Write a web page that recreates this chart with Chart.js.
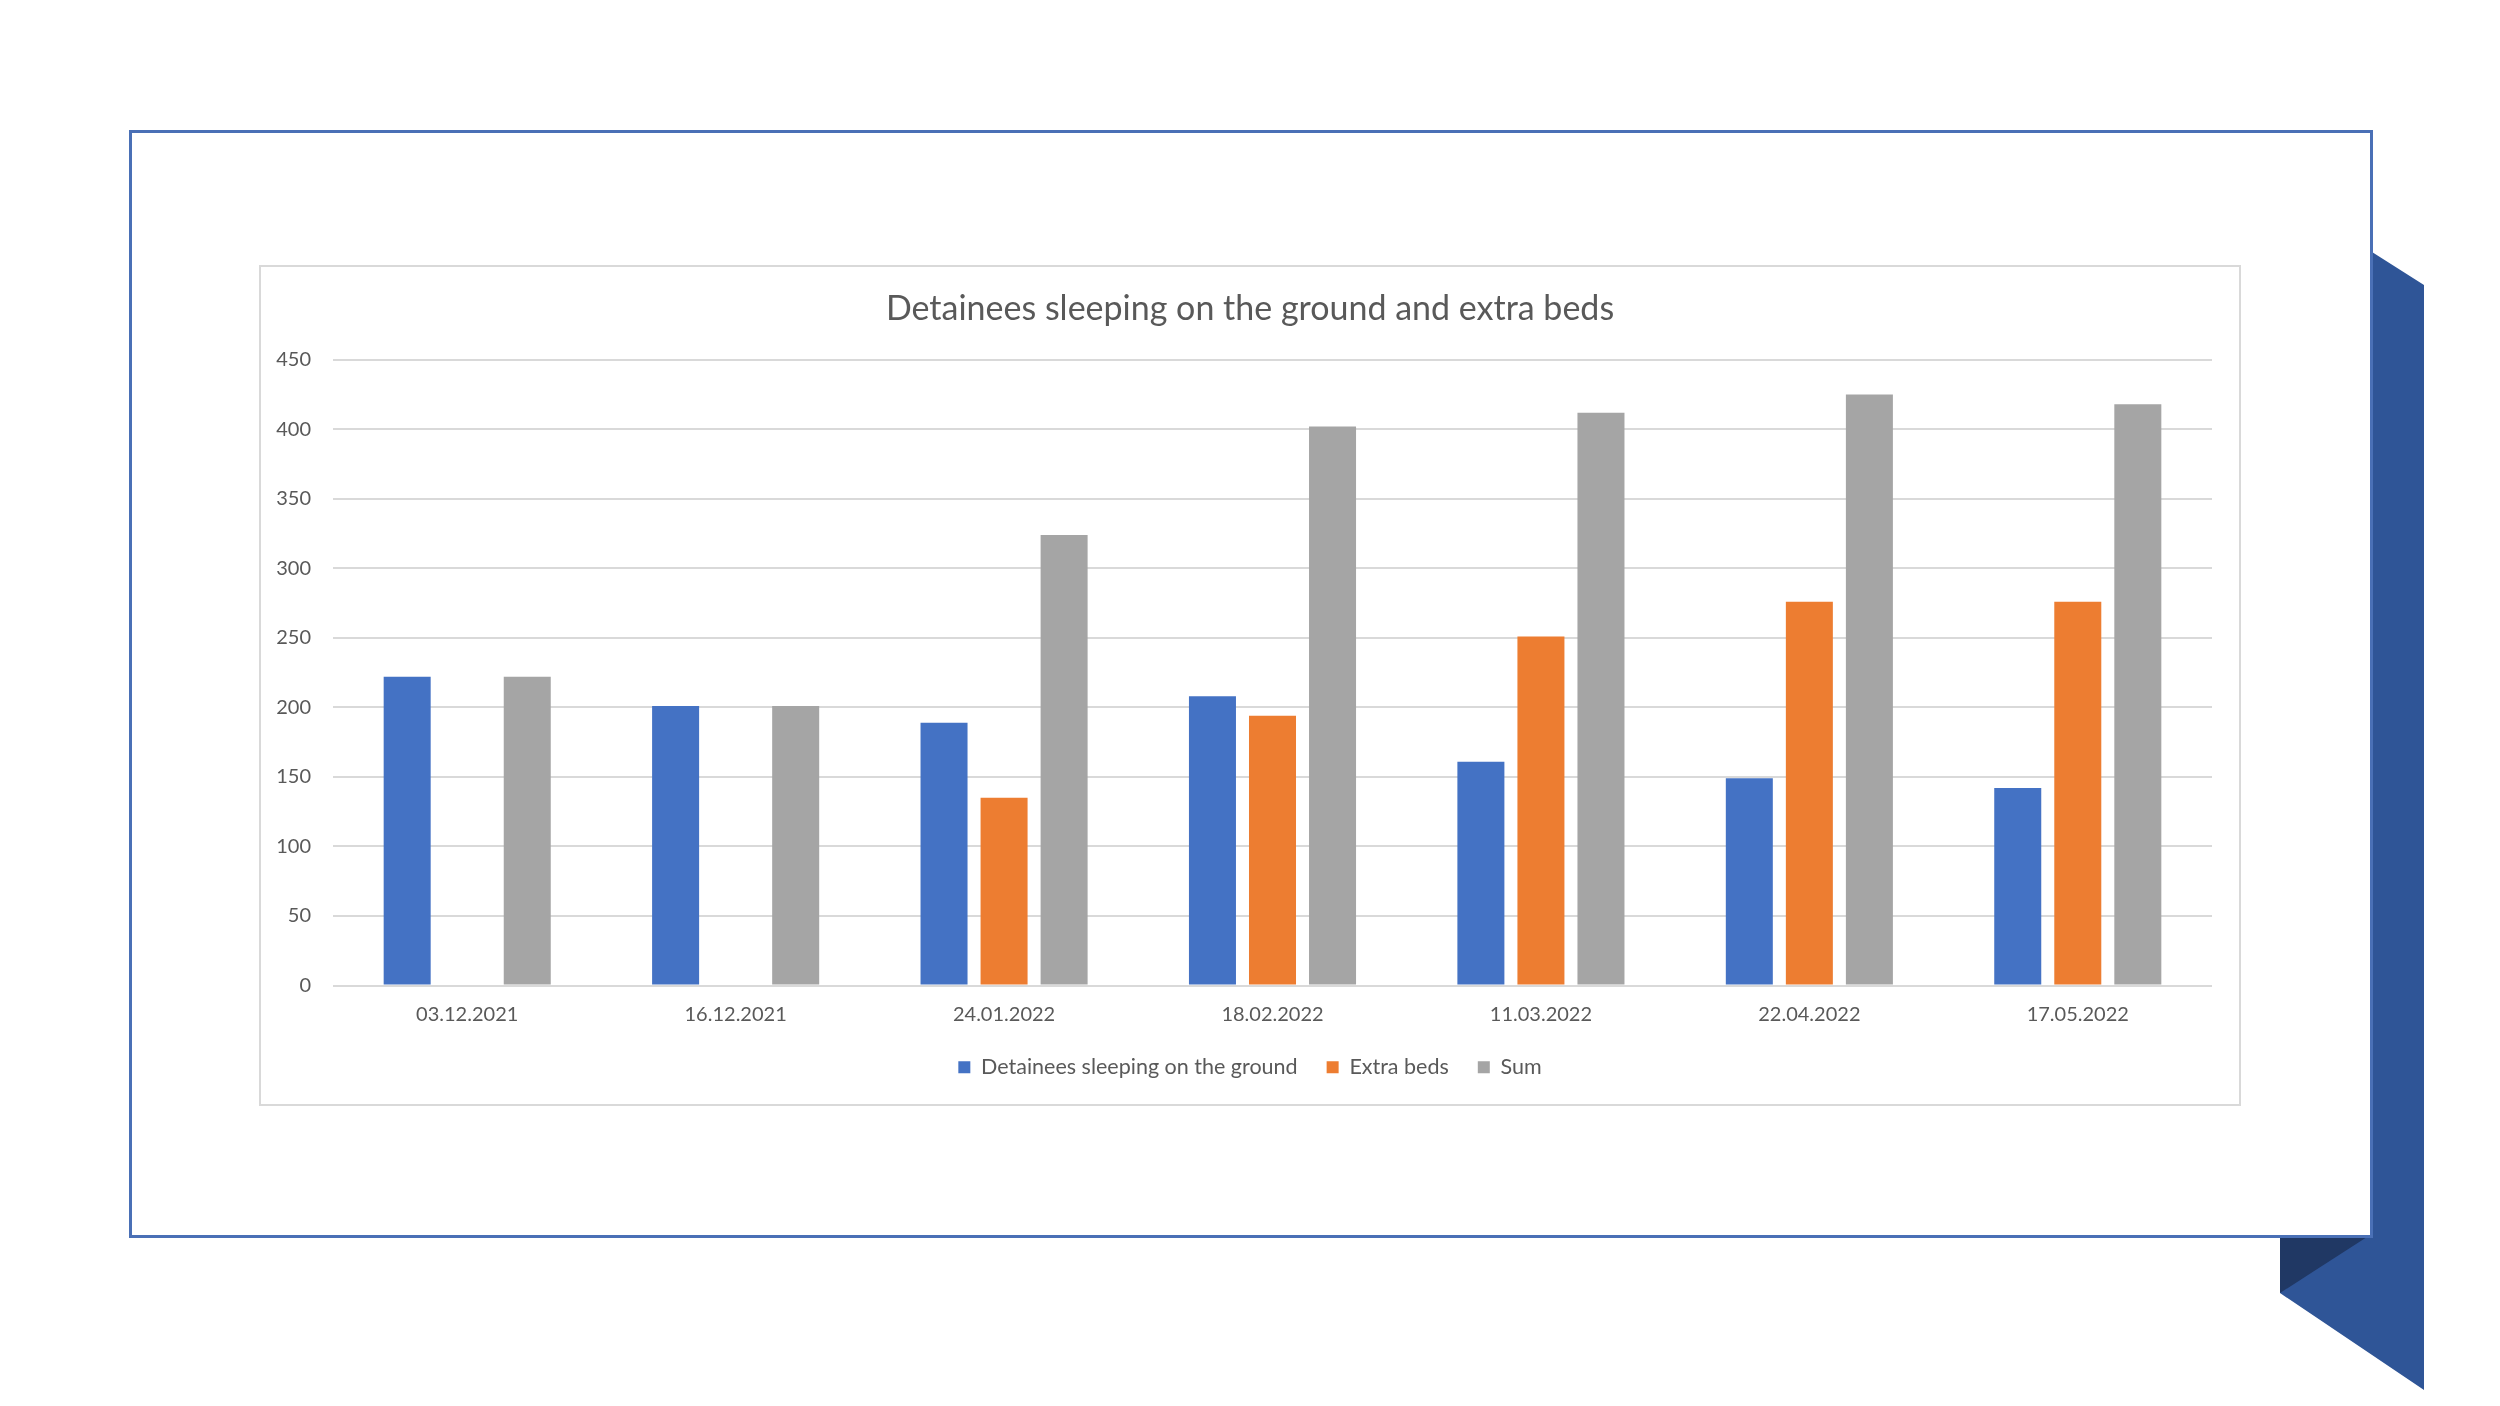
<!DOCTYPE html>
<html>
<head>
<meta charset="utf-8">
<script src="https://cdn.jsdelivr.net/npm/chart.js@4.4.1/dist/chart.umd.min.js"></script>
<style>
  html, body { margin: 0; padding: 0; background: #fff; }
  body { width: 2500px; height: 1406px; position: relative; overflow: hidden; }
  #deco { position: absolute; left: 0; top: 0; }
  #frame {
    position: absolute; left: 129px; top: 130px; width: 2244px; height: 1108px;
    box-sizing: border-box; border: 3px solid #4A70B6; background: #fff;
  }
  #chartBox {
    position: absolute; left: 259px; top: 265px; width: 1982px; height: 841px;
    box-sizing: border-box; border: 2px solid #D9D9D9; background: #fff;
  }
  #chartInner { position: absolute; left: 0; top: 0; right: 0; bottom: 0; }
</style>
</head>
<body>
<svg id="deco" width="2500" height="1406">
  <polygon points="2372,252 2424,285 2424,1390 2280,1293 2280,1237 2372,1237" fill="#2F5597"/>
  <polygon points="2280,1237 2367,1237 2280,1293" fill="#203864"/>
</svg>
<div id="frame"></div>
<div id="chartBox"><div id="chartInner"><canvas id="myChart"></canvas></div></div>

<script>
// data
const dates = ['03.12.2021', '16.12.2021', '24.01.2022', '18.02.2022', '11.03.2022', '22.04.2022', '17.05.2022'];
const onGround = [222, 201, 189, 208, 161, 149, 142];
const extraBeds = [null, null, 135, 194, 251, 276, 276];
const sumValues = [222, 201, 324, 402, 412, 425, 418];
const yTicks = [0, 50, 100, 150, 200, 250, 300, 350, 400, 450];

const fontFamily = 'Lato, "Open Sans", sans-serif';
const textColor = '#595959';
const gridColor = '#D9D9D9';

const config = {
  type: 'bar',
  data: {
    labels: dates,
    datasets: [{
      label: 'Detainees sleeping on the ground',
      data: onGround,
      backgroundColor: '#4472C4'
    }, {
      label: 'Extra beds',
      data: extraBeds,
      backgroundColor: '#ED7D31'
    }, {
      label: 'Sum',
      data: sumValues,
      backgroundColor: '#A5A5A5'
    }]
  },
  options: {
    responsive: true,
    maintainAspectRatio: false,
    animation: false,
    categoryPercentage: 0.671,
    barPercentage: 0.783,
    layout: {
      // symmetric padding so title and legend stay centred in the box
      padding: { left: 13.5, right: 13.5, top: 0, bottom: 16 }
    },
    plugins: {
      title: {
        display: true,
        text: 'Detainees sleeping on the ground and extra beds',
        color: textColor,
        font: { family: fontFamily, size: 34, weight: 'normal' },
        padding: { top: 22, bottom: 30 }
      },
      legend: {
        position: 'bottom',
        labels: {
          color: textColor,
          font: { family: fontFamily, size: 21.5 },
          boxWidth: 12,
          boxHeight: 12,
          padding: 29
        }
      },
      tooltip: { enabled: false }
    },
    scales: {
      x: {
        grid: { display: false, drawTicks: false },
        border: { display: false },
        ticks: {
          color: textColor,
          font: { family: fontFamily, size: 20 },
          padding: 17,
          maxRotation: 0
        },
        afterFit: function(scale) { scale.height = 42; }
      },
      y: {
        min: 0,
        max: 450,
        afterBuildTicks: function(scale) {
          scale.ticks = yTicks.map(v => ({ value: v }));
        },
        grid: { color: gridColor, lineWidth: 2, drawTicks: false },
        border: { display: false },
        ticks: {
          color: textColor,
          font: { family: fontFamily, size: 20 },
          padding: 22
        },
        afterFit: function(scale) { scale.width = 58.5; }
      },
      // empty spacer on the right side of the plot
      yRight: {
        position: 'right',
        grid: { display: false, drawTicks: false },
        border: { display: false },
        ticks: { display: false },
        afterFit: function(scale) { scale.width = 13.5; }
      }
    }
  }
};

document.addEventListener('DOMContentLoaded', function() {
  const ctx = document.getElementById('myChart').getContext('2d');
  new Chart(ctx, config);
});
</script>
</body>
</html>
